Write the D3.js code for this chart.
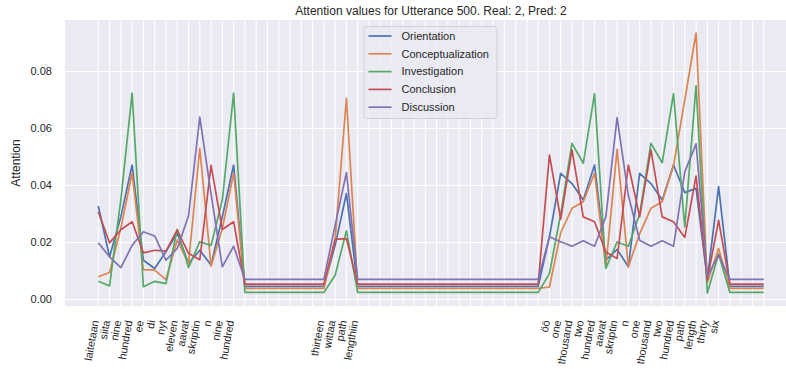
<!DOCTYPE html>
<html>
<head>
<meta charset="utf-8">
<script src="https://cdn.jsdelivr.net/npm/d3@7"></script>
<style>
    body { margin: 0; background: #fff; }
    svg text { font-family: "Liberation Sans", Arial, sans-serif; fill: #262626; }
</style>
</head>
<body>
<div id="chart"></div>
<script>
// tokens on the x axis ('' = padding position, no label)
const tokens = [
    'laitetaan', 'siita', 'nine', 'hundred', 'ee', 'di', 'nyt', 'eleven', 'aavat', 'skriptin', 'n', 'nine', 'hundred',
    '', '', '', '', '', '', '',
    'thirteen', 'wittaa', 'path', 'lengthiin',
    '', '', '', '', '', '', '', '', '', '', '', '', '', '', '', '',
    'öö', 'one', 'thousand', 'two', 'hundred', 'aavat', 'skriptin', 'n', 'one', 'thousand', 'two', 'hundred', 'path', 'length', 'thirty', 'six',
    '', '', '', ''
]

const orientation = [
    0.0328, 0.0150, 0.0290, 0.0472, 0.0138, 0.0109, 0.0168, 0.0232, 0.0127, 0.0173, 0.0121, 0.0290, 0.0472,
    0.0046, 0.0046, 0.0046, 0.0046, 0.0046, 0.0046, 0.0046,
    0.0046, 0.0190, 0.0372, 0.0046,
    0.0046, 0.0046, 0.0046, 0.0046, 0.0046, 0.0046, 0.0046, 0.0046, 0.0046, 0.0046, 0.0046, 0.0046, 0.0046, 0.0046, 0.0046, 0.0046,
    0.0220, 0.0443, 0.0407, 0.0349, 0.0472, 0.0138, 0.0176, 0.0115, 0.0443, 0.0407, 0.0349, 0.0472, 0.0375, 0.0390, 0.0070, 0.0396,
    0.0046, 0.0046, 0.0046, 0.0046
]

const conceptualization = [
    0.0080, 0.0095, 0.0250, 0.0443, 0.0105, 0.0103, 0.0070, 0.0209, 0.0127, 0.0530, 0.0117, 0.0250, 0.0443,
    0.0039, 0.0039, 0.0039, 0.0039, 0.0039, 0.0039, 0.0039,
    0.0039, 0.0210, 0.0706, 0.0039,
    0.0039, 0.0039, 0.0039, 0.0039, 0.0039, 0.0039, 0.0039, 0.0039, 0.0039, 0.0039, 0.0039, 0.0039, 0.0039, 0.0039, 0.0039, 0.0039,
    0.0044, 0.0235, 0.0320, 0.0343, 0.0443, 0.0115, 0.0527, 0.0115, 0.0231, 0.0320, 0.0343, 0.0470, 0.0700, 0.0935, 0.0060, 0.0179,
    0.0039, 0.0039, 0.0039, 0.0039
]

const investigation = [
    0.0064, 0.0048, 0.0350, 0.0724, 0.0045, 0.0064, 0.0056, 0.0246, 0.0112, 0.0203, 0.0190, 0.0350, 0.0724,
    0.0025, 0.0025, 0.0025, 0.0025, 0.0025, 0.0025, 0.0025,
    0.0025, 0.0085, 0.0241, 0.0025,
    0.0025, 0.0025, 0.0025, 0.0025, 0.0025, 0.0025, 0.0025, 0.0025, 0.0025, 0.0025, 0.0025, 0.0025, 0.0025, 0.0025, 0.0025, 0.0025,
    0.0091, 0.0300, 0.0548, 0.0478, 0.0722, 0.0109, 0.0202, 0.0187, 0.0300, 0.0548, 0.0480, 0.0722, 0.0255, 0.0750, 0.0023, 0.0160,
    0.0025, 0.0025, 0.0025, 0.0025
]

const conclusion = [
    0.0308, 0.0199, 0.0245, 0.0273, 0.0164, 0.0173, 0.0170, 0.0244, 0.0162, 0.0140, 0.0471, 0.0246, 0.0273,
    0.0054, 0.0054, 0.0054, 0.0054, 0.0054, 0.0054, 0.0054,
    0.0054, 0.0211, 0.0214, 0.0054,
    0.0054, 0.0054, 0.0054, 0.0054, 0.0054, 0.0054, 0.0054, 0.0054, 0.0054, 0.0054, 0.0054, 0.0054, 0.0054, 0.0054, 0.0054, 0.0054,
    0.0507, 0.0282, 0.0525, 0.0290, 0.0273, 0.0167, 0.0144, 0.0472, 0.0290, 0.0525, 0.0290, 0.0273, 0.0218, 0.0433, 0.0070, 0.0278,
    0.0054, 0.0054, 0.0054, 0.0054
]

const discussion = [
    0.0199, 0.0150, 0.0112, 0.0190, 0.0238, 0.0223, 0.0138, 0.0179, 0.0293, 0.0640, 0.0370, 0.0115, 0.0187,
    0.0071, 0.0071, 0.0071, 0.0071, 0.0071, 0.0071, 0.0071,
    0.0071, 0.0260, 0.0445, 0.0071,
    0.0071, 0.0071, 0.0071, 0.0071, 0.0071, 0.0071, 0.0071, 0.0071, 0.0071, 0.0071, 0.0071, 0.0071, 0.0071, 0.0071, 0.0071, 0.0071,
    0.0220, 0.0203, 0.0187, 0.0206, 0.0187, 0.0290, 0.0638, 0.0365, 0.0208, 0.0187, 0.0206, 0.0187, 0.0448, 0.0546, 0.0082, 0.0156,
    0.0071, 0.0071, 0.0071, 0.0071
]

const seriesNames = ['Orientation', 'Conceptualization', 'Investigation', 'Conclusion', 'Discussion']
const seriesValues = [orientation, conceptualization, investigation, conclusion, discussion]
const yTicks = [0, 0.02, 0.04, 0.06, 0.08]

// seaborn "deep" palette
const colors = ['#4C72B0', '#DD8452', '#55A868', '#C44E52', '#8172B3']

const width = 786, height = 369
const plotLeft = 65, plotRight = 797, plotTop = 20, plotBottom = 306

const svg = d3.select('#chart').append('svg')
    .attr('width', width)
    .attr('height', height)

// matplotlib style 5% margins on both axes
const n = tokens.length
const xPad = (n - 1) * 0.05
const x = d3.scaleLinear()
    .domain([-xPad, n - 1 + xPad])
    .range([plotLeft, plotRight])

const allValues = seriesValues.flat()
const yMin = d3.min(allValues), yMax = d3.max(allValues)
const yPad = (yMax - yMin) * 0.05
const y = d3.scaleLinear()
    .domain([yMin - yPad, yMax + yPad])
    .range([plotBottom, plotTop])

svg.append('defs').append('clipPath').attr('id', 'plot-clip')
    .append('rect')
    .attr('x', plotLeft).attr('y', plotTop)
    .attr('width', plotRight - plotLeft).attr('height', plotBottom - plotTop)

// axes background
svg.append('rect')
    .attr('x', plotLeft).attr('y', plotTop)
    .attr('width', plotRight - plotLeft).attr('height', plotBottom - plotTop)
    .attr('fill', '#EAEAF2')

// grid
const grid = svg.append('g').attr('clip-path', 'url(#plot-clip)')
grid.selectAll('.vgrid')
    .data(d3.range(n))
    .enter()
    .append('line')
    .attr('x1', d => x(d)).attr('x2', d => x(d))
    .attr('y1', plotTop).attr('y2', plotBottom)
    .attr('stroke', '#fff')
    .attr('stroke-width', 1.1)
grid.selectAll('.hgrid')
    .data(yTicks)
    .enter()
    .append('line')
    .attr('x1', plotLeft).attr('x2', plotRight)
    .attr('y1', d => y(d)).attr('y2', d => y(d))
    .attr('stroke', '#fff')
    .attr('stroke-width', 1.1)

// y tick labels
svg.selectAll('.ytick')
    .data(yTicks)
    .enter()
    .append('text')
    .attr('x', plotLeft - 13)
    .attr('y', d => y(d))
    .attr('dy', '0.35em')
    .attr('text-anchor', 'end')
    .style('font-size', '11px')
    .text(d => d3.format('.2f')(d))

// x tick labels, rotated 80 degrees
svg.selectAll('.xtick')
    .data(tokens.map((t, i) => ({ t: t, i: i })).filter(d => d.t !== ''))
    .enter()
    .append('text')
    .attr('text-anchor', 'end')
    .attr('transform', d => 'translate(' + (x(d.i) + 0.5) + ',' + 321 + ') rotate(-80)')
    .style('font-size', '10.8px')
    .text(d => d.t)

// lines
const line = d3.line()
    .x((d, i) => x(i))
    .y(d => y(d))
const lines = svg.append('g').attr('clip-path', 'url(#plot-clip)')
seriesValues.forEach(function (values, k) {
    lines.append('path')
        .datum(values)
        .attr('d', line)
        .attr('fill', 'none')
        .attr('stroke', colors[k])
        .attr('stroke-width', 1.7)
        .attr('stroke-linejoin', 'round')
})

// title + y label
svg.append('text')
    .attr('x', (plotLeft + plotRight) / 2)
    .attr('y', 15)
    .attr('text-anchor', 'middle')
    .style('font-size', '12px')
    .text('Attention values for Utterance 500. Real: 2, Pred: 2')

svg.append('text')
    .attr('transform', 'translate(20,' + ((plotTop + plotBottom) / 2) + ') rotate(-90)')
    .attr('text-anchor', 'middle')
    .style('font-size', '12px')
    .text('Attention')

// legend
const legendX = 364, legendY = 26.5, rowH = 17.8
svg.append('rect')
    .attr('x', legendX).attr('y', legendY)
    .attr('width', 133).attr('height', 92)
    .attr('rx', 3)
    .attr('fill', '#EAEAF2')
    .attr('fill-opacity', 0.8)
    .attr('stroke', '#cccccc')
    .attr('stroke-width', 0.8)
const legend = svg.selectAll('.legend')
    .data(seriesNames)
    .enter()
    .append('g')
    .attr('transform', (d, i) => 'translate(' + legendX + ',' + (legendY + 9.5 + i * rowH) + ')')
legend.append('line')
    .attr('x1', 4.5).attr('x2', 27.5)
    .attr('stroke', (d, i) => colors[i])
    .attr('stroke-width', 1.7)
legend.append('text')
    .attr('x', 37.5)
    .attr('dy', '0.35em')
    .style('font-size', '11px')
    .text(d => d)
</script>
</body>
</html>
